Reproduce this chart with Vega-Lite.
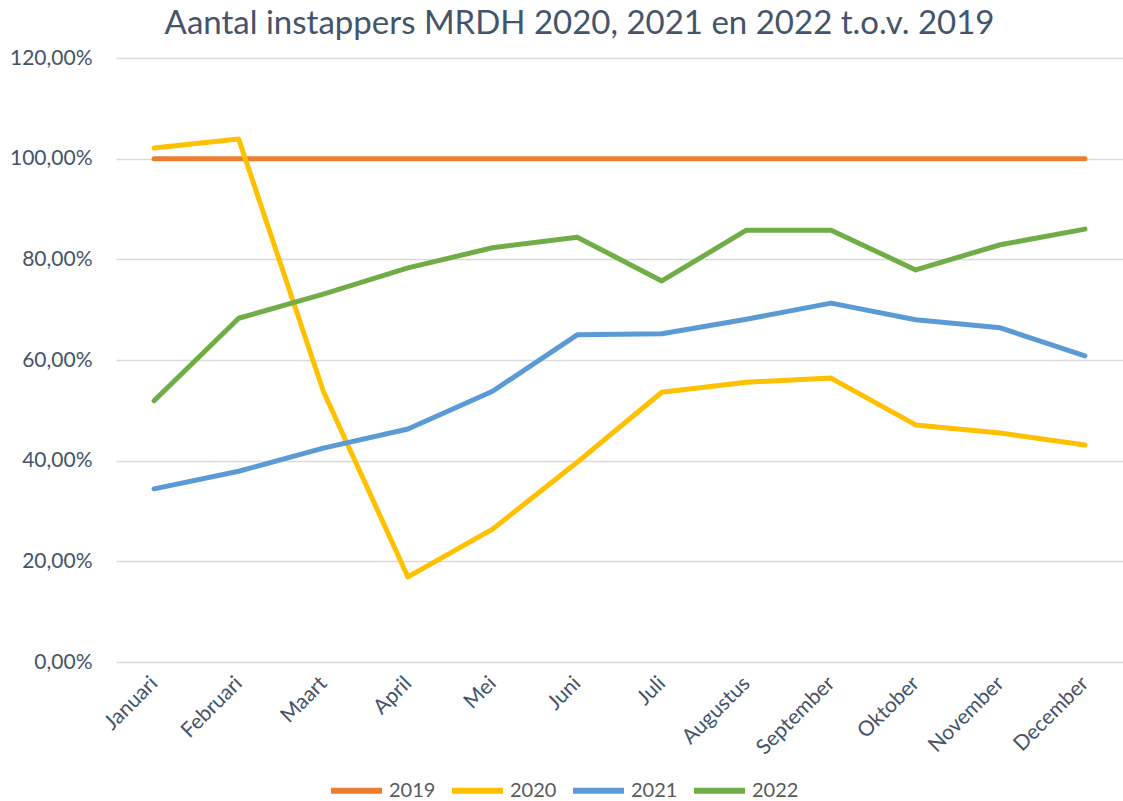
{
  "$schema": "https://vega.github.io/schema/vega-lite/v6.json",
  "width": 1007,
  "height": 604,
  "autosize": "none",
  "padding": {"left": 116, "top": 58, "right": 0, "bottom": 139},
  "background": "white",
  "title": {
    "text": "Aantal instappers MRDH 2020, 2021 en 2022 t.o.v. 2019",
    "font": "Lato",
    "fontSize": 33,
    "fontWeight": "normal",
    "color": "#44546A",
    "anchor": "middle",
    "dx": -40,
    "offset": 6
  },
  "config": {
    "view": {"stroke": null},
    "font": "Lato"
  },
  "data": {
    "values": [
      {"maand": "Januari", "jaar": "2019", "waarde": 100},
      {"maand": "Februari", "jaar": "2019", "waarde": 100},
      {"maand": "Maart", "jaar": "2019", "waarde": 100},
      {"maand": "April", "jaar": "2019", "waarde": 100},
      {"maand": "Mei", "jaar": "2019", "waarde": 100},
      {"maand": "Juni", "jaar": "2019", "waarde": 100},
      {"maand": "Juli", "jaar": "2019", "waarde": 100},
      {"maand": "Augustus", "jaar": "2019", "waarde": 100},
      {"maand": "September", "jaar": "2019", "waarde": 100},
      {"maand": "Oktober", "jaar": "2019", "waarde": 100},
      {"maand": "November", "jaar": "2019", "waarde": 100},
      {"maand": "December", "jaar": "2019", "waarde": 100},
      {"maand": "Januari", "jaar": "2020", "waarde": 102.1},
      {"maand": "Februari", "jaar": "2020", "waarde": 103.9},
      {"maand": "Maart", "jaar": "2020", "waarde": 53.8},
      {"maand": "April", "jaar": "2020", "waarde": 16.9},
      {"maand": "Mei", "jaar": "2020", "waarde": 26.4},
      {"maand": "Juni", "jaar": "2020", "waarde": 39.7},
      {"maand": "Juli", "jaar": "2020", "waarde": 53.6},
      {"maand": "Augustus", "jaar": "2020", "waarde": 55.6},
      {"maand": "September", "jaar": "2020", "waarde": 56.4},
      {"maand": "Oktober", "jaar": "2020", "waarde": 47.1},
      {"maand": "November", "jaar": "2020", "waarde": 45.5},
      {"maand": "December", "jaar": "2020", "waarde": 43.1},
      {"maand": "Januari", "jaar": "2021", "waarde": 34.4},
      {"maand": "Februari", "jaar": "2021", "waarde": 37.9},
      {"maand": "Maart", "jaar": "2021", "waarde": 42.5},
      {"maand": "April", "jaar": "2021", "waarde": 46.3},
      {"maand": "Mei", "jaar": "2021", "waarde": 53.8},
      {"maand": "Juni", "jaar": "2021", "waarde": 65.0},
      {"maand": "Juli", "jaar": "2021", "waarde": 65.2},
      {"maand": "Augustus", "jaar": "2021", "waarde": 68.1},
      {"maand": "September", "jaar": "2021", "waarde": 71.3},
      {"maand": "Oktober", "jaar": "2021", "waarde": 68.0},
      {"maand": "November", "jaar": "2021", "waarde": 66.4},
      {"maand": "December", "jaar": "2021", "waarde": 60.8},
      {"maand": "Januari", "jaar": "2022", "waarde": 51.9},
      {"maand": "Februari", "jaar": "2022", "waarde": 68.3},
      {"maand": "Maart", "jaar": "2022", "waarde": 73.1},
      {"maand": "April", "jaar": "2022", "waarde": 78.3},
      {"maand": "Mei", "jaar": "2022", "waarde": 82.3},
      {"maand": "Juni", "jaar": "2022", "waarde": 84.4},
      {"maand": "Juli", "jaar": "2022", "waarde": 75.7},
      {"maand": "Augustus", "jaar": "2022", "waarde": 85.8},
      {"maand": "September", "jaar": "2022", "waarde": 85.8},
      {"maand": "Oktober", "jaar": "2022", "waarde": 77.9},
      {"maand": "November", "jaar": "2022", "waarde": 82.9},
      {"maand": "December", "jaar": "2022", "waarde": 86.0}
    ]
  },
  "mark": {"type": "line", "strokeWidth": 5, "strokeCap": "round", "strokeJoin": "round"},
  "encoding": {
    "x": {
      "field": "maand",
      "type": "nominal",
      "sort": null,
      "scale": {"type": "point", "padding": 0.45},
      "axis": {
        "title": null,
        "labelAngle": -45,
        "labelAlign": "right",
        "labelBaseline": "middle",
        "labelFontSize": 21,
        "labelColor": "#44546A",
        "labelPadding": 18,
        "ticks": false,
        "domain": false,
        "grid": false
      }
    },
    "y": {
      "field": "waarde",
      "type": "quantitative",
      "scale": {"domain": [0, 120], "nice": false},
      "axis": {
        "title": null,
        "values": [0, 20, 40, 60, 80, 100, 120],
        "labelExpr": "replace(format(datum.value, '.2f'), '.', ',') + '%'",
        "labelFontSize": 21,
        "labelColor": "#44546A",
        "labelPadding": 24,
        "ticks": false,
        "domain": false,
        "grid": true,
        "gridColor": "#D9D9D9",
        "gridWidth": 1.5
      }
    },
    "color": {
      "field": "jaar",
      "type": "nominal",
      "scale": {"domain": ["2019", "2020", "2021", "2022"], "range": ["#ED7D31", "#FFC000", "#5B9BD5", "#70AD47"]},
      "legend": {
        "title": null,
        "orient": "none",
        "legendX": 212,
        "legendY": 704,
        "direction": "horizontal",
        "symbolType": "stroke",
        "symbolSize": 2600,
        "symbolStrokeWidth": 6,
        "labelFontSize": 20,
        "labelColor": "#595959",
        "columnPadding": 4,
        "labelOffset": 4
      }
    }
  }
}
